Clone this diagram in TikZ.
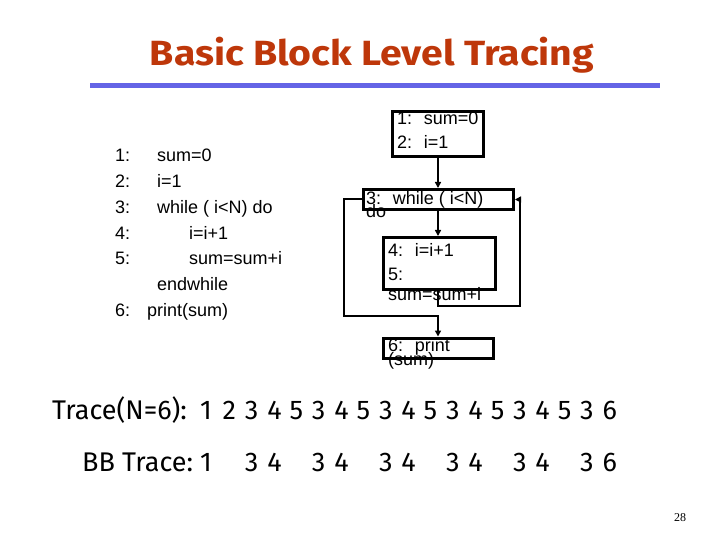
\documentclass[tikz,border=0pt]{standalone}
\usepackage{fontspec}
\usepackage{graphicx}
\setmainfont{Liberation Sans}
\newfontfamily\titlefont{Fira Sans}
\newfontfamily\pgfont{Liberation Serif}
\usetikzlibrary{arrows.meta}
\definecolor{titlered}{RGB}{190,55,10}
\definecolor{rulebl}{RGB}{100,100,230}
\begin{document}
\begin{tikzpicture}[x=1pt,y=-1pt,
  bb/.style={draw=black, line width=3pt, inner sep=0pt},
  code/.style={anchor=base west, inner sep=0pt, font=\fontsize{18}{20}\selectfont},
  conn/.style={line width=2pt, -{Triangle[length=6pt,width=6pt]}},
  trace/.style={anchor=base west, inner sep=0pt, font=\titlefont\fontsize{27}{30}\selectfont},
  pgnum/.style={anchor=base, inner sep=0pt, font=\pgfont\fontsize{12}{14}\selectfont},
]
\useasboundingbox (0,0) rectangle (720,540);

% title and rule
\node[anchor=base, inner sep=0pt, text=titlered, font=\titlefont\bfseries\fontsize{35}{40}\selectfont] (title) at (372,66) {\scalebox{1.12}[1]{Basic Block Level Tracing}};
\draw[rulebl, line width=5pt] (90,85.5) -- (660,85.5);

% listing
\node[code] (l1n) at (115,162) {1:};
\node[code] (l1c) at (157,162) {sum=0};
\node[code] (l2n) at (115,187.7) {2:};
\node[code] (l2c) at (157,187.7) {i=1};
\node[code] (l3n) at (115,213.4) {3:};
\node[code] (l3c) at (157,213.4) {while ( i<N) do};
\node[code] (l4n) at (115,239.1) {4:};
\node[code] (l4c) at (189,239.1) {i=i+1};
\node[code] (l5n) at (115,264.8) {5:};
\node[code] (l5c) at (189,264.8) {sum=sum+i};
\node[code] (lew) at (157,290.5) {endwhile};
\node[code] (l6n) at (115,316.2) {6:};
\node[code] (l6c) at (147,316.2) {print(sum)};

% block texts
\node[code] (t1a) at (397,125) {1:~ sum=0};
\node[code] (t1b) at (397,149) {2:~ i=1};
\node[code] (t3a) at (366,205) {3:~ while ( i<N)};
\node[code] (t3b) at (366,218) {do};
\node[code] (t4a) at (388,256) {4:~ i=i+1};
\node[code] (t4b) at (388,280) {5:};
\node[code] (t4c) at (388,300) {sum=sum+i};
\node[code] (t6a) at (388,351) {6:~ print};
\node[code] (t6b) at (388,365) {(sum)};

% blocks
\node[bb, minimum width=91pt, minimum height=45pt] (b1) at (438,134) {};
\node[bb, minimum width=150pt, minimum height=20pt] (b3) at (438.5,199.5) {};
\node[bb, minimum width=112pt, minimum height=52pt] (b4) at (439.5,263.5) {};
\node[bb, minimum width=110pt, minimum height=20pt] (b6) at (438.5,348) {};

% connectors
\draw[conn] (b1.south) -- (b1.south |- b3.north);
\draw[conn] (b3.south -| b1.south) -- (b1.south |- b4.north);
\coordinate (lc) at (344,316);
\draw[conn] (b3.west) -| (lc) -| (b1.south |- b6.north);
\coordinate (rc) at (520,306);
\draw[conn] (b4.south -| b1.south) |- (rc) |- (b3.east);

% traces
\node[trace] (tr) at (52,419) {Trace(N=6):};
\foreach \d [count=\k from 0] in {1,2,3,4,5,3,4,5,3,4,5,3,4,5,3,4,5,3,6}
  \node[trace] (tr\k) at (200+22.35*\k,419) {\d};
\node[trace] (bb) at (82,471) {BB Trace:};
\foreach \k/\d in {0/1,2/3,3/4,5/3,6/4,8/3,9/4,11/3,12/4,14/3,15/4,17/3,18/6}
  \node[trace] (bt\k) at (200+22.35*\k,471) {\d};

\node[pgnum] (pg) at (680,521) {28};
\end{tikzpicture}
\end{document}
